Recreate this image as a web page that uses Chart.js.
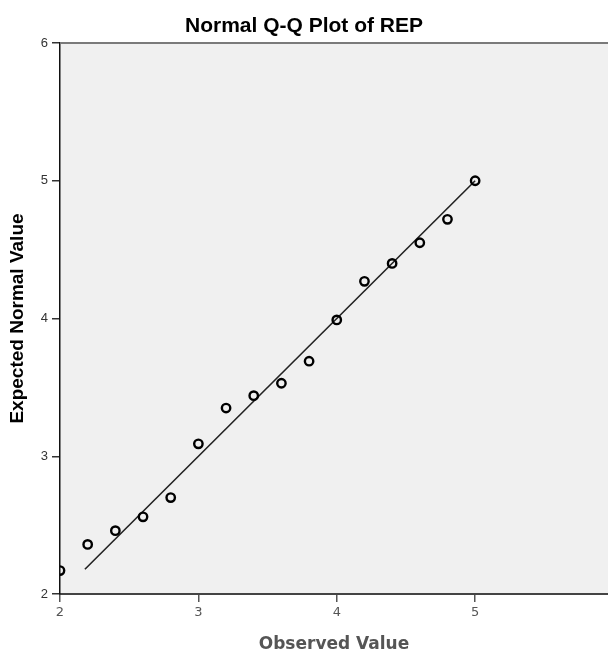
<!DOCTYPE html>
<html>
<head>
<meta charset="utf-8">
<script src="https://cdn.jsdelivr.net/npm/chart.js@4/dist/chart.umd.min.js"></script>
<style>
  html, body { margin: 0; padding: 0; background: #fff; }
  #qq { display: block; }
</style>
</head>
<body>
<canvas id="qq" width="608" height="654"></canvas>
<script>
const observed = [2.0, 2.2, 2.4, 2.6, 2.8, 3.0, 3.2, 3.4, 3.6, 3.8, 4.0, 4.2, 4.4, 4.6, 4.8, 5.0];
const expected = [2.17, 2.36, 2.46, 2.56, 2.70, 3.09, 3.35, 3.44, 3.53, 3.69, 3.99, 4.27, 4.40, 4.55, 4.72, 5.00];

// Referenzgerade (Normalverteilung)
const refLineX = [2.18, 5.0];
const refLineY = [2.18, 5.0];

// Achsenbeschriftungen
const xTicks = [2, 3, 4, 5];
const yTicks = [2, 3, 4, 5, 6];

const toPoints = (xs, ys) => xs.map((x, i) => ({ x: x, y: ys[i] }));

// Hintergrund der Plotfläche + obere Rahmenlinie
const plotFrame = {
    id: 'plotFrame',
    beforeDraw(chart) {
        const { ctx, chartArea: a } = chart;
        ctx.save();
        ctx.fillStyle = '#f0f0f0';
        ctx.fillRect(a.left, a.top, a.right - a.left, a.bottom - a.top);
        ctx.restore();
    },
    afterDraw(chart) {
        const { ctx, chartArea: a } = chart;
        ctx.save();
        ctx.strokeStyle = '#7a7a7a';
        ctx.lineWidth = 2;
        ctx.beginPath();
        ctx.moveTo(a.left, a.top);
        ctx.lineTo(a.right, a.top);
        ctx.stroke();
        ctx.restore();
    }
};

new Chart(document.getElementById('qq'), {
    type: 'scatter',
    data: {
        datasets: [
            {
                label: 'REP',
                data: toPoints(observed, expected),
                pointStyle: 'circle',
                pointRadius: 4.2,
                pointHoverRadius: 4.2,
                pointBorderWidth: 2.4,
                pointBackgroundColor: 'rgba(0,0,0,0)',
                pointBorderColor: '#000',
                clip: 0,
                order: 1
            },
            {
                label: 'Normal',
                type: 'line',
                data: toPoints(refLineX, refLineY),
                borderColor: '#222',
                borderWidth: 1.6,
                pointRadius: 0,
                fill: false,
                order: 2
            }
        ]
    },
    options: {
        responsive: false,
        animation: false,
        events: [],
        layout: { autoPadding: false, padding: { left: 0, right: 0, top: 0, bottom: 0 } },
        plugins: {
            legend: { display: false },
            tooltip: { enabled: false },
            title: {
                display: true,
                text: 'Normal Q-Q Plot of REP',
                color: '#000',
                font: { family: 'Liberation Sans', size: 21, weight: 'bold', lineHeight: 1 },
                padding: { top: 16, bottom: 6 }
            }
        },
        scales: {
            x: {
                type: 'linear',
                min: 2,
                max: 5.96,
                afterBuildTicks: (s) => { s.ticks = xTicks.map(v => ({ value: v })); },
                afterFit: (s) => { s.height = 60; s.paddingLeft = 0; s.paddingRight = 0; },
                border: { display: true, color: '#444', width: 2 },
                grid: { drawOnChartArea: false, drawTicks: true, tickLength: 8, color: '#555', lineWidth: 1.5 },
                ticks: {
                    color: '#555',
                    padding: 3,
                    font: { family: 'DejaVu Sans', size: 13 }
                },
                title: {
                    display: true,
                    text: 'Observed Value',
                    color: '#555',
                    font: { family: 'DejaVu Sans', size: 17, weight: 'bold', lineHeight: 1 },
                    padding: { top: 0, bottom: 0.5 }
                }
            },
            y: {
                type: 'linear',
                min: 2,
                max: 6,
                afterBuildTicks: (s) => { s.ticks = yTicks.map(v => ({ value: v })); },
                afterFit: (s) => { s.width = 60; },
                border: { display: true, color: '#111', width: 1.5 },
                grid: { drawOnChartArea: false, drawTicks: true, tickLength: 8, color: '#333', lineWidth: 1.5 },
                ticks: {
                    color: '#333',
                    padding: 4,
                    font: { family: 'Liberation Sans', size: 13 }
                },
                title: {
                    display: true,
                    text: 'Expected Normal Value',
                    color: '#000',
                    font: { family: 'Liberation Sans', size: 19, weight: 'bold', lineHeight: 1 },
                    padding: { top: 8, bottom: 0 }
                }
            }
        }
    },
    plugins: [plotFrame]
});
</script>
</body>
</html>
